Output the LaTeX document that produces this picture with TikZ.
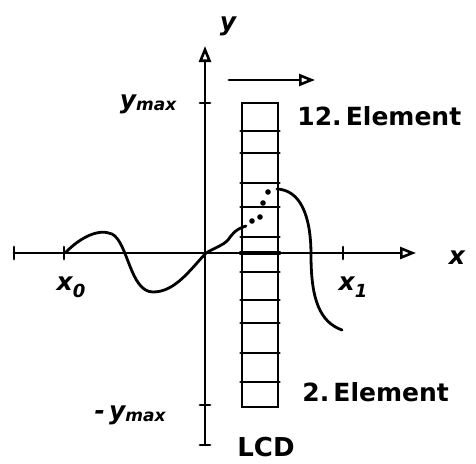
\documentclass[tikz,border=0pt]{standalone}
\usepackage{fontspec}
\setmainfont{DejaVu Sans}
\usetikzlibrary{arrows.meta}

\begin{document}
\begin{tikzpicture}[x=1pt, y=-1pt, line width=2.8pt, line cap=round,
    opentip/.style={-{Triangle[open, length=16pt, width=12pt, line width=2.6pt]}},
    tick/.style={line width=2.8pt},
    lbl/.style={inner sep=0pt, font=\fontsize{25}{25}\selectfont\bfseries\itshape},
    elem/.style={inner sep=0pt, font=\fontsize{25}{25}\selectfont\bfseries}]

    \useasboundingbox (0,0) rectangle (476,463);

    % Axes
    \coordinate (ybot) at (205,445);
    \coordinate (ytop) at (205,46);
    \coordinate (xleft) at (14,253);
    \coordinate (xright) at (416,253);
    \draw[opentip] (ybot) -- (ytop);
    \draw[opentip] (xleft) -- (xright);

    % Ticks
    \coordinate (ymaxtick) at (205,103);
    \coordinate (ymintick) at (205,405);
    \coordinate (x0tick) at (64,253);
    \coordinate (x1tick) at (343,253);
    \foreach \t in {ymaxtick, ymintick, ybot}
        \draw[tick] ([xshift=-5pt]\t) -- ([xshift=5pt]\t);
    \foreach \t in {x0tick, x1tick, xleft}
        \draw[tick] ([yshift=-6pt]\t) -- ([yshift=6pt]\t);

    % Labels
    \node[lbl] (ylbl) at (228,26) {y};
    \node[lbl] (xlbl) at (457,258) {x};
    \node[lbl, anchor=north] (x0lbl) at (71,275) {x\raisebox{-7pt}{\fontsize{18}{18}\selectfont 0}};
    \node[lbl, anchor=north] (x1lbl) at (353,275) {x\raisebox{-7pt}{\fontsize{18}{18}\selectfont 1}};
    \node[lbl] (ymaxlbl) at (148,104) {y\raisebox{-2pt}{\fontsize{17}{17}\selectfont max}};
    \node[lbl] (yminlbl) at (130,415) {-\,y\raisebox{-2pt}{\fontsize{17}{17}\selectfont max}};

    % LCD column
    \node[draw, minimum width=36pt, minimum height=304pt, inner sep=0pt] (lcd) at (260,255) {};
    \foreach \yy in {131,153,183,207,237,272,300,323,353,382}
        \draw (lcd.west |- 0,\yy) -- (lcd.east |- 0,\yy);
    \draw[line width=4pt] (lcd.west |- 0,253) -- (lcd.east |- 0,253);
    \node[elem, anchor=west] (top) at (296,116) {12.\,Element};
    \node[elem, anchor=west] (bottom) at (301,392) {2.\,Element};
    \node[elem, anchor=base west, font=\fontsize{26}{26}\selectfont\bfseries] (lcdlbl) at (236,456) {LCD};

    % Scan direction
    \coordinate (scanstart) at (229,80);
    \coordinate (scanend) at (315,80);
    \draw[opentip] (scanstart) -- (scanend);

    % Signal
    \draw
        (66,252)
        .. controls (80,238) and (98,228) ..
        (112,234)
        .. controls (128,242) and (130,292) ..
        (153,292)
        .. controls (175,292) and (190,270) ..
        (206,253)
        .. controls (218,246) and (222,246) ..
        (228,240)
        .. controls (232,234) and (236,229) ..
        (246,226);
    \foreach \p in {(252,221), (260,217), (263,203), (268,192)}
        \fill \p circle (2.8pt);
    \draw
        (277,189)
        .. controls (300,190) and (311,215) ..
        (311,255)
        .. controls (311,300) and (320,322) ..
        (342,330);

\end{tikzpicture}
\end{document}
